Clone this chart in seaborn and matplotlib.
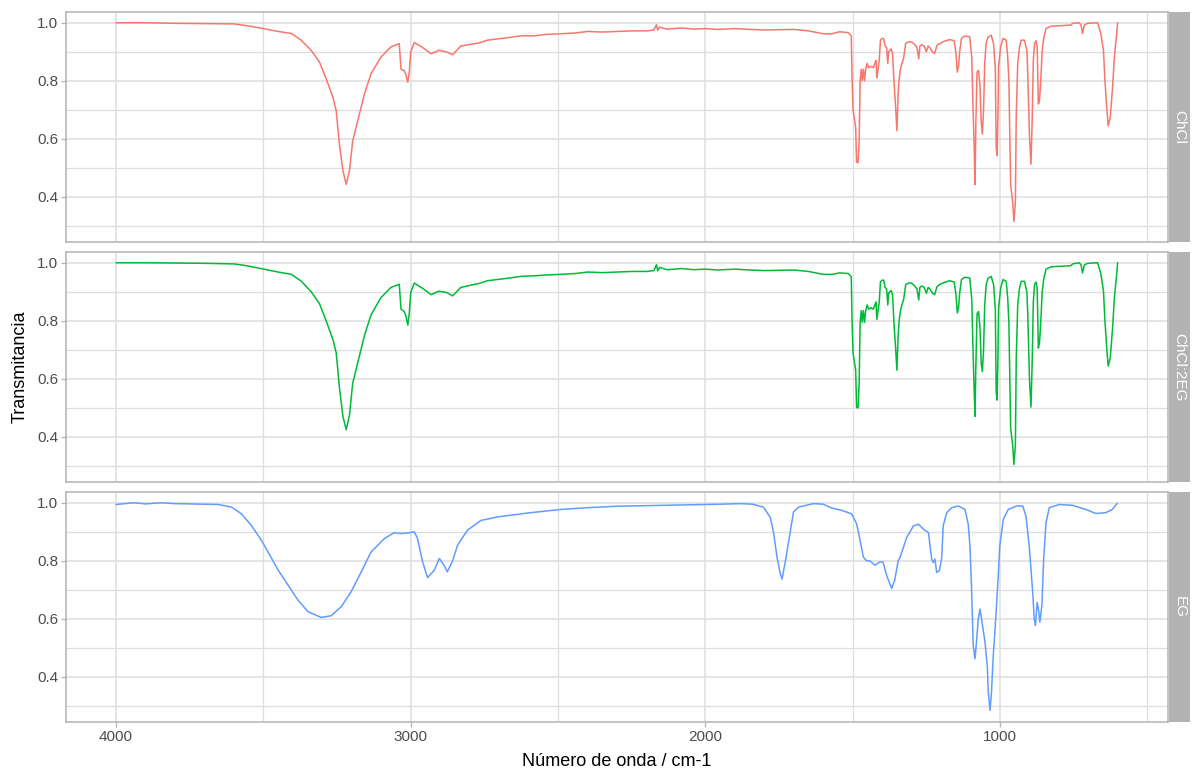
import matplotlib
matplotlib.use("Agg")
import matplotlib.pyplot as plt
from matplotlib.ticker import MultipleLocator
import numpy as np
import pandas as pd
import seaborn as sns

# ---------------------------------------------------------------
# FTIR spectra (wavenumber in cm-1, transmittance normalised to 1)
# ---------------------------------------------------------------
samples = ["ChCl", "ChCl:2EG", "EG"]
colors = ["#F8766D", "#00BA38", "#619CFF"]

wn_chcl = [4000, 3900, 3800, 3700, 3600, 3558, 3500, 3450, 3405, 3372, 3338, 3310,
           3287, 3264, 3253, 3242, 3230, 3219, 3208, 3197, 3180, 3157, 3135, 3101,
           3067, 3039, 3033, 3022, 3016, 3010, 3005, 3000, 2988, 2960, 2931, 2905,
           2880, 2858, 2830, 2800, 2770, 2740, 2700, 2660, 2627, 2580, 2540, 2491,
           2440, 2400, 2350, 2300, 2250, 2200, 2175, 2166, 2162, 2155, 2130, 2080,
           2040, 2000, 1960, 1900, 1850, 1800, 1700, 1650, 1600, 1570, 1545, 1515,
           1505, 1502, 1499, 1493, 1490, 1487, 1482, 1478, 1475, 1471, 1468, 1464,
           1460, 1456, 1451, 1446, 1438, 1430, 1425, 1421, 1418, 1414, 1410, 1406,
           1400, 1395, 1390, 1385, 1381, 1378, 1374, 1370, 1365, 1359, 1355, 1350,
           1346, 1343, 1338, 1333, 1327, 1320, 1310, 1300, 1290, 1282, 1276, 1272,
           1267, 1258, 1250, 1244, 1238, 1230, 1222, 1214, 1205, 1190, 1171, 1156,
           1150, 1145, 1141, 1137, 1131, 1120, 1103, 1096, 1092, 1088, 1085, 1082,
           1078, 1073, 1068, 1064, 1060, 1056, 1052, 1047, 1041, 1030, 1022, 1016,
           1013, 1010, 1007, 1005, 998, 990, 979, 974, 970, 964, 957, 953,
           948, 945, 940, 934, 928, 917, 909, 906, 900, 895, 891, 887,
           883, 878, 874, 870, 866, 861, 857, 852, 844, 827, 790, 759,
           754, 731, 725, 720, 714, 703, 669, 658, 649, 644, 638, 633,
           626, 618, 612, 604, 601]
t_chcl = [1.000, 1.000, 0.998, 0.997, 0.996, 0.990, 0.980, 0.970, 0.963, 0.940, 0.905, 0.865,
          0.807, 0.743, 0.697, 0.580, 0.490, 0.443, 0.490, 0.593, 0.662, 0.755, 0.824, 0.882,
          0.917, 0.928, 0.840, 0.835, 0.820, 0.795, 0.830, 0.900, 0.932, 0.915, 0.893, 0.905,
          0.900, 0.890, 0.920, 0.925, 0.930, 0.940, 0.945, 0.950, 0.955, 0.955, 0.960, 0.962,
          0.965, 0.970, 0.968, 0.970, 0.972, 0.972, 0.975, 0.993, 0.975, 0.985, 0.978, 0.982,
          0.978, 0.980, 0.977, 0.980, 0.977, 0.975, 0.977, 0.972, 0.962, 0.962, 0.969, 0.966,
          0.955, 0.800, 0.700, 0.660, 0.640, 0.520, 0.518, 0.600, 0.800, 0.840, 0.800, 0.840,
          0.800, 0.840, 0.860, 0.845, 0.850, 0.845, 0.860, 0.870, 0.810, 0.840, 0.870, 0.940,
          0.946, 0.945, 0.920, 0.915, 0.860, 0.900, 0.905, 0.910, 0.895, 0.780, 0.720, 0.628,
          0.750, 0.800, 0.840, 0.860, 0.880, 0.930, 0.934, 0.934, 0.925, 0.915, 0.876, 0.920,
          0.924, 0.920, 0.900, 0.920, 0.914, 0.900, 0.894, 0.922, 0.928, 0.936, 0.942, 0.938,
          0.900, 0.830, 0.850, 0.900, 0.946, 0.954, 0.952, 0.880, 0.720, 0.580, 0.443, 0.660,
          0.830, 0.836, 0.780, 0.660, 0.617, 0.700, 0.860, 0.930, 0.950, 0.957, 0.928, 0.842,
          0.570, 0.542, 0.686, 0.848, 0.917, 0.946, 0.940, 0.882, 0.800, 0.443, 0.380, 0.316,
          0.380, 0.680, 0.859, 0.917, 0.940, 0.940, 0.905, 0.830, 0.605, 0.513, 0.663, 0.871,
          0.928, 0.938, 0.917, 0.720, 0.732, 0.819, 0.905, 0.946, 0.980, 0.988, 0.990, 0.992,
          0.998, 1.000, 0.992, 0.963, 0.992, 0.998, 1.000, 0.963, 0.905, 0.800, 0.709, 0.645,
          0.674, 0.778, 0.882, 0.963, 1.000]

wn_mix = [4000, 3900, 3800, 3700, 3600, 3558, 3500, 3450, 3405, 3372, 3338, 3310,
          3287, 3264, 3253, 3242, 3230, 3219, 3208, 3197, 3180, 3157, 3135, 3101,
          3067, 3039, 3033, 3022, 3016, 3010, 3005, 3000, 2988, 2960, 2931, 2905,
          2880, 2858, 2830, 2800, 2770, 2740, 2700, 2660, 2627, 2580, 2540, 2491,
          2440, 2400, 2350, 2300, 2250, 2200, 2175, 2166, 2162, 2155, 2130, 2080,
          2040, 2000, 1960, 1900, 1850, 1800, 1700, 1650, 1600, 1570, 1545, 1515,
          1505, 1502, 1499, 1493, 1490, 1487, 1482, 1478, 1475, 1471, 1468, 1464,
          1460, 1456, 1451, 1446, 1438, 1430, 1425, 1421, 1418, 1414, 1410, 1406,
          1400, 1395, 1390, 1385, 1381, 1378, 1374, 1370, 1365, 1359, 1355, 1350,
          1346, 1343, 1338, 1333, 1327, 1320, 1310, 1300, 1290, 1282, 1276, 1272,
          1267, 1258, 1250, 1244, 1238, 1230, 1222, 1214, 1205, 1190, 1171, 1156,
          1150, 1145, 1141, 1137, 1131, 1120, 1103, 1096, 1092, 1088, 1085, 1082,
          1078, 1073, 1068, 1064, 1060, 1056, 1052, 1047, 1041, 1030, 1022, 1016,
          1013, 1010, 1007, 1005, 998, 990, 979, 974, 970, 964, 957, 953,
          948, 945, 940, 934, 928, 917, 909, 906, 900, 895, 891, 887,
          883, 878, 874, 870, 866, 861, 857, 852, 844, 827, 790, 759,
          754, 731, 725, 720, 714, 703, 669, 658, 649, 644, 638, 633,
          626, 618, 612, 604, 601]
t_mix = [1.000, 1.000, 0.999, 0.998, 0.996, 0.990, 0.978, 0.968, 0.960, 0.937, 0.900, 0.860,
         0.800, 0.735, 0.690, 0.570, 0.470, 0.425, 0.475, 0.585, 0.655, 0.750, 0.820, 0.880,
         0.915, 0.926, 0.840, 0.832, 0.815, 0.785, 0.825, 0.898, 0.930, 0.912, 0.890, 0.902,
         0.898, 0.886, 0.915, 0.922, 0.928, 0.938, 0.943, 0.948, 0.953, 0.955, 0.958, 0.960,
         0.963, 0.968, 0.966, 0.968, 0.970, 0.970, 0.973, 0.993, 0.972, 0.984, 0.976, 0.980,
         0.976, 0.978, 0.975, 0.978, 0.975, 0.973, 0.975, 0.970, 0.960, 0.960, 0.965, 0.963,
         0.952, 0.790, 0.690, 0.650, 0.630, 0.502, 0.500, 0.590, 0.795, 0.835, 0.795, 0.835,
         0.795, 0.835, 0.855, 0.840, 0.845, 0.840, 0.855, 0.865, 0.805, 0.835, 0.865, 0.934,
         0.940, 0.940, 0.915, 0.910, 0.855, 0.895, 0.900, 0.905, 0.890, 0.775, 0.715, 0.630,
         0.745, 0.795, 0.835, 0.855, 0.875, 0.925, 0.930, 0.930, 0.920, 0.910, 0.872, 0.915,
         0.920, 0.916, 0.895, 0.915, 0.910, 0.896, 0.890, 0.918, 0.925, 0.932, 0.938, 0.934,
         0.895, 0.827, 0.845, 0.895, 0.942, 0.950, 0.948, 0.875, 0.710, 0.565, 0.471, 0.650,
         0.825, 0.832, 0.775, 0.655, 0.625, 0.700, 0.855, 0.925, 0.946, 0.953, 0.925, 0.838,
         0.555, 0.527, 0.680, 0.843, 0.912, 0.942, 0.936, 0.878, 0.795, 0.430, 0.370, 0.305,
         0.370, 0.672, 0.855, 0.913, 0.936, 0.936, 0.900, 0.825, 0.595, 0.503, 0.655, 0.866,
         0.924, 0.934, 0.912, 0.706, 0.725, 0.812, 0.900, 0.942, 0.978, 0.986, 0.988, 0.990,
         0.996, 1.000, 0.992, 0.965, 0.992, 0.998, 1.000, 0.963, 0.903, 0.798, 0.708, 0.644,
         0.672, 0.776, 0.880, 0.962, 1.000]

wn_eg = [4000, 3970, 3940, 3900, 3850, 3800, 3750, 3700, 3654, 3608, 3575, 3541,
         3507, 3484, 3450, 3417, 3383, 3349, 3304, 3270, 3236, 3202, 3168, 3135,
         3089, 3056, 3033, 3010, 2988, 2977, 2960, 2943, 2920, 2903, 2887, 2876,
         2858, 2841, 2808, 2762, 2706, 2600, 2490, 2400, 2300, 2200, 2100, 2000,
         1950, 1882, 1840, 1803, 1780, 1769, 1757, 1746, 1740, 1729, 1712, 1701,
         1684, 1633, 1600, 1572, 1538, 1504, 1487, 1476, 1464, 1453, 1442, 1425,
         1408, 1397, 1385, 1368, 1357, 1346, 1340, 1317, 1294, 1277, 1260, 1243,
         1232, 1227, 1221, 1215, 1206, 1198, 1193, 1181, 1164, 1142, 1119, 1108,
         1102, 1097, 1091, 1085, 1080, 1074, 1068, 1063, 1051, 1043, 1040, 1034,
         1029, 1023, 1014, 1006, 1001, 989, 972, 944, 923, 912, 901, 889,
         884, 880, 874, 869, 865, 858, 852, 844, 833, 799, 754, 709,
         675, 641, 619, 602]
t_eg = [0.994, 0.997, 1.000, 0.996, 1.000, 0.997, 0.996, 0.995, 0.994, 0.985, 0.962, 0.922,
        0.871, 0.830, 0.768, 0.717, 0.665, 0.625, 0.605, 0.611, 0.642, 0.694, 0.762, 0.830,
        0.877, 0.897, 0.894, 0.896, 0.900, 0.877, 0.797, 0.742, 0.768, 0.808, 0.785, 0.762,
        0.800, 0.854, 0.905, 0.939, 0.951, 0.965, 0.977, 0.983, 0.988, 0.990, 0.992, 0.994,
        0.995, 0.997, 0.995, 0.985, 0.950, 0.900, 0.813, 0.756, 0.737, 0.796, 0.900, 0.968,
        0.985, 0.997, 0.995, 0.982, 0.974, 0.962, 0.928, 0.876, 0.813, 0.800, 0.800, 0.785,
        0.796, 0.796, 0.750, 0.705, 0.735, 0.800, 0.810, 0.880, 0.920, 0.926, 0.909, 0.897,
        0.806, 0.794, 0.806, 0.760, 0.766, 0.810, 0.920, 0.966, 0.983, 0.989, 0.977, 0.926,
        0.850, 0.714, 0.510, 0.463, 0.520, 0.600, 0.634, 0.600, 0.520, 0.434, 0.349, 0.285,
        0.349, 0.474, 0.611, 0.749, 0.851, 0.943, 0.977, 0.989, 0.989, 0.954, 0.851, 0.690,
        0.600, 0.577, 0.657, 0.629, 0.589, 0.646, 0.806, 0.931, 0.983, 0.994, 0.991, 0.977,
        0.963, 0.966, 0.977, 0.998]

# long-form table for seaborn
df = pd.concat([
    pd.DataFrame({"wn": wn_chcl, "T": t_chcl, "muestra": samples[0]}),
    pd.DataFrame({"wn": wn_mix, "T": t_mix, "muestra": samples[1]}),
    pd.DataFrame({"wn": wn_eg, "T": t_eg, "muestra": samples[2]}),
], ignore_index=True)

sns.set_theme(style="white")
plt.rcParams["font.family"] = ["Liberation Sans", "DejaVu Sans"]

grid_col = "#DEDEDE"
frame_col = "#B3B3B3"
tick_txt = "#4D4D4D"

g = sns.relplot(
    data=df, x="wn", y="T", row="muestra", hue="muestra",
    row_order=samples, hue_order=samples, palette=colors,
    kind="line", estimator=None, sort=False, legend=False,
    linewidth=1.1, height=2.3, aspect=5,
    facet_kws=dict(sharex=True, sharey=True),
)
fig = g.figure
fig.set_size_inches(11.92, 7.73)
fig.set_dpi(100)

W, H = 1192.0, 773.0
panel_left, panel_right = 66, 1168
panel_rows = [(12, 242), (252, 482), (492, 722)]
strip_x0, strip_x1 = 1169, 1190

for i, (ax, name) in enumerate(zip(g.axes.flat, samples)):
    top, bot = panel_rows[i]
    ax.set_position([panel_left / W, 1 - bot / H,
                     (panel_right - panel_left) / W, (bot - top) / H])
    ax.set_title("")
    ax.set_xlim(4170, 430)
    ax.set_ylim(0.245, 1.037)
    ax.xaxis.set_major_locator(MultipleLocator(1000))
    ax.xaxis.set_minor_locator(MultipleLocator(500))
    ax.yaxis.set_major_locator(MultipleLocator(0.2))
    ax.yaxis.set_minor_locator(MultipleLocator(0.1))
    ax.set_yticks([0.4, 0.6, 0.8, 1.0])
    ax.set_yticklabels(["0.4", "0.6", "0.8", "1.0"])
    ax.grid(which="major", color=grid_col, linewidth=1.1)
    ax.grid(which="minor", color=grid_col, linewidth=0.9)
    ax.set_axisbelow(True)
    for sp in ax.spines.values():
        sp.set_visible(True)
        sp.set_color(frame_col)
        sp.set_linewidth(1.1)
    ax.tick_params(axis="y", which="major", left=True, length=3.5, width=0.9,
                   color=frame_col, labelcolor=tick_txt, labelsize=11, pad=2)
    ax.tick_params(which="minor", length=0)
    last = i == len(samples) - 1
    ax.tick_params(axis="x", which="major", bottom=last, labelbottom=last,
                   length=3.5, width=0.9, color=frame_col,
                   labelcolor=tick_txt, labelsize=11, pad=2)
    ax.set_xlabel("")
    ax.set_ylabel("")

    # facet strip on the right
    sax = fig.add_axes([strip_x0 / W, 1 - bot / H,
                        (strip_x1 - strip_x0) / W, (bot - top) / H])
    sax.set_facecolor(frame_col)
    sax.set_xticks([])
    sax.set_yticks([])
    for sp in sax.spines.values():
        sp.set_visible(False)
    sax.text(0.5, 0.5, name, rotation=270, color="white", fontsize=11,
             ha="center", va="center", transform=sax.transAxes)

fig.text((panel_left + panel_right) / 2 / W, 1 - 762 / H,
         "Número de onda / cm-1", ha="center", va="center",
         fontsize=13, color="black")
fig.text(20 / W, 1 - 367 / H, "Transmitancia", rotation=90,
         ha="center", va="center", fontsize=13, color="black")

fig.savefig("out.png", dpi=100, facecolor="white")
